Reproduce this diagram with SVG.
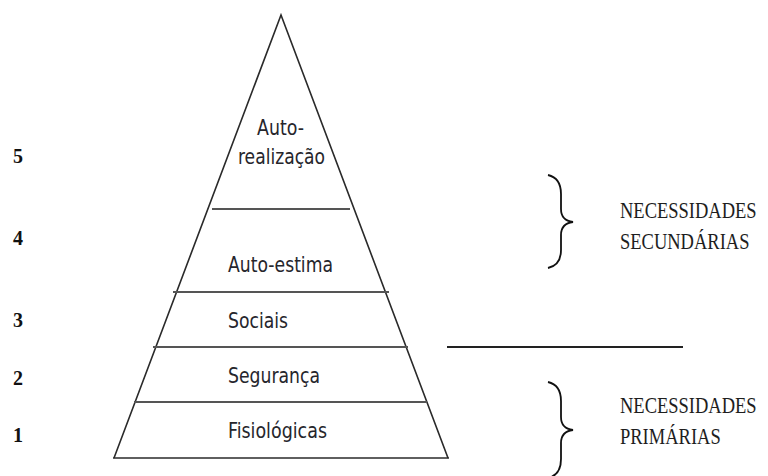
<svg xmlns="http://www.w3.org/2000/svg" width="768" height="476" viewBox="0 0 768 476">
  <style>
    .lvl { font-family: "DejaVu Sans Condensed", "DejaVu Sans", sans-serif; font-stretch: condensed; font-size: 20.5px; fill: #26262c; }
    .num { font-family: "Liberation Serif", serif; font-weight: bold; font-size: 20px; fill: #111; }
    .cat { font-family: "Liberation Serif", serif; font-size: 18.5px; fill: #1e1e1e; }
    .edge { fill: none; stroke: #2a2a2a; stroke-width: 1.6; }
    .sep { stroke: #555; stroke-width: 2.2; }
    .brace { fill: none; stroke: #111; stroke-width: 1.8; }
  </style>
  <rect width="768" height="476" fill="#ffffff"/>

  <g id="pyramid">
    <polyline class="edge" points="114,458 281,15 448,458"/>
    <line class="edge" x1="113" y1="458" x2="449" y2="458"/>
  </g>

  <g id="level-5">
    <line class="sep" x1="212" y1="209" x2="350" y2="209"/>
    <text class="lvl" x="257" y="135" textLength="47" lengthAdjust="spacingAndGlyphs">Auto-</text>
    <text class="lvl" x="238" y="164" textLength="87" lengthAdjust="spacingAndGlyphs">realização</text>
    <text class="num" x="13" y="163">5</text>
  </g>

  <g id="level-4">
    <line class="sep" x1="173" y1="292" x2="389" y2="292"/>
    <text class="lvl" x="228" y="272" textLength="105" lengthAdjust="spacingAndGlyphs">Auto-estima</text>
    <text class="num" x="13" y="245">4</text>
  </g>

  <g id="level-3">
    <line class="sep" x1="153" y1="347" x2="408" y2="347"/>
    <text class="lvl" x="228" y="328" textLength="60" lengthAdjust="spacingAndGlyphs">Sociais</text>
    <text class="num" x="13" y="327">3</text>
  </g>

  <g id="level-2">
    <line class="sep" x1="134" y1="402" x2="427" y2="402"/>
    <text class="lvl" x="228" y="383" textLength="92" lengthAdjust="spacingAndGlyphs">Segurança</text>
    <text class="num" x="13" y="385">2</text>
  </g>

  <g id="level-1">
    <text class="lvl" x="228" y="438" textLength="99" lengthAdjust="spacingAndGlyphs">Fisiológicas</text>
    <text class="num" x="13" y="442">1</text>
  </g>

  <g id="connectors">
    <path class="brace" d="M548,175 C557,177 561,184 561,194 L561,209 C561,217 565,221 573,222 C565,223 561,227 561,235 L561,250 C561,260 557,266 548,268"/>
    <line x1="447" y1="347" x2="683" y2="347" stroke="#222" stroke-width="1.8"/>
    <path class="brace" d="M548,382 C557,384 561,391 561,401 L561,417 C561,425 565,429 573,430 C565,431 561,435 561,443 L561,459 C561,469 557,476 548,478"/>
  </g>

  <g id="secondary">
    <text class="cat" transform="translate(620,218) scale(1,1.2)" x="0" y="0">NECESSIDADES</text>
    <text class="cat" transform="translate(620,249) scale(1,1.2)" x="0" y="0">SECUNDÁRIAS</text>
  </g>

  <g id="primary">
    <text class="cat" transform="translate(620,413) scale(1,1.2)" x="0" y="0">NECESSIDADES</text>
    <text class="cat" transform="translate(620,444) scale(1,1.2)" x="0" y="0">PRIMÁRIAS</text>
  </g>
</svg>
